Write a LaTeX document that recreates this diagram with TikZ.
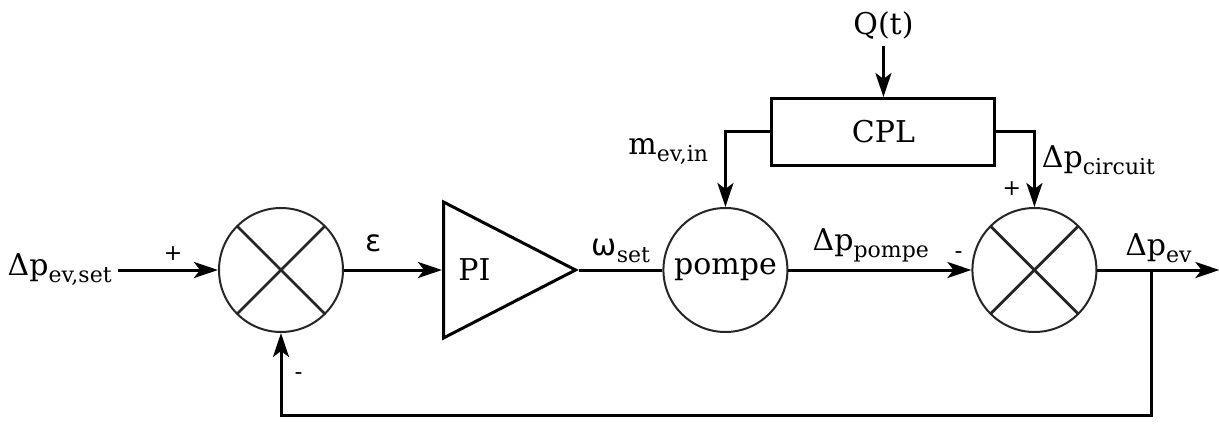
\documentclass[tikz,border=0pt]{standalone}
\usepackage{fontspec}
\setmainfont{DejaVu Serif}
\newfontfamily\grkfont{DejaVu Sans}
\usetikzlibrary{positioning,arrows.meta,shapes.geometric}
\newcommand{\lsub}[1]{\raisebox{-3.5pt}{\fontsize{11}{13}\selectfont #1}}
\tikzset{
  lbl/.style ={font=\fontsize{15}{18}\selectfont, inner sep=3pt},
  grk/.style ={lbl, font=\grkfont\fontsize{15}{18}\selectfont},
  pm/.style  ={font=\grkfont\fontsize{11}{13}\selectfont, inner sep=1pt},
  sig/.style ={-{Stealth[length=12pt,width=8pt,inset=3pt]}, line width=1.5pt},
  wire/.style={line width=1.5pt},
  blk/.style ={draw, line width=1.5pt, minimum width=111.5pt, minimum height=33.5pt,
               inner sep=0pt, font=\fontsize{15}{18}\selectfont},
  circ/.style={circle, draw=black!85, line width=1pt, minimum size=62pt, inner sep=0pt,
               fill=white, font=\fontsize{15}{18}\selectfont},
  sumj/.style={circ, path picture={
                 \draw[line width=1.4pt]
                   (path picture bounding box.north west) -- (path picture bounding box.south east)
                   (path picture bounding box.north east) -- (path picture bounding box.south west);}},
  gain/.style={isosceles triangle, isosceles triangle stretches, draw, line width=1.5pt,
               minimum width=68pt, minimum height=66pt, inner sep=0pt},
}

\begin{document}
\begin{tikzpicture}
  \useasboundingbox (-140.5pt,-76.5pt) rectangle (469pt,135pt);

  % main chain
  \node[sumj] (j1) at (0,0) {};
  \node[lbl, left=50pt of j1] (in) {Δp\lsub{ev,set}};
  \node[gain, right=49pt of j1] (pi) {};
  \node[lbl, right=5pt of pi.west] (pitxt) {PI};
  \node[circ, right=41.5pt of pi] (pompe) {pompe};
  \node[sumj, right=91.5pt of pompe] (j2) {};
  \coordinate[right=27pt of j2] (tap);
  \coordinate[right=61pt of j2] (out);
  \coordinate[below=72.5pt of tap] (fb);

  % disturbance branch
  \node[blk, above right=20pt and 22.5pt of pompe.north] (cpl) {CPL};
  \node[lbl, above=25.5pt of cpl] (q) {Q(t)};

  \draw[sig] (in) -- node[pm, above=3pt, pos=0.55] {+} (j1);
  \draw[sig] (j1) -- node[grk, above=5.5pt, pos=0.3] {ε} (pi);
  \draw[wire] (pi) -- node[lbl, above] {{\grkfont ω}\lsub{set}} (pompe);
  \draw[sig] (pompe) -- node[lbl, above, pos=0.45] {Δp\lsub{pompe}}
                        node[pm, above=4pt, pos=0.93] {-} (j2);
  \draw[sig] (j2) -- node[lbl, above] {Δp\lsub{ev}} (out);
  \draw[sig] (tap) -- (fb) -| node[pm, right=5pt, pos=0.74] {-} (j1.south);

  \draw[sig] (q) -- (cpl);
  \draw[sig] (cpl.west) -| node[lbl, left=5pt, pos=0.63] {m\lsub{ev,in}} (pompe.north);
  \draw[sig] (cpl.east) -| node[lbl, right, pos=0.69] {Δp\lsub{circuit}}
                           node[pm, left=5pt, pos=0.88] {+} (j2.north);
\end{tikzpicture}
\end{document}
